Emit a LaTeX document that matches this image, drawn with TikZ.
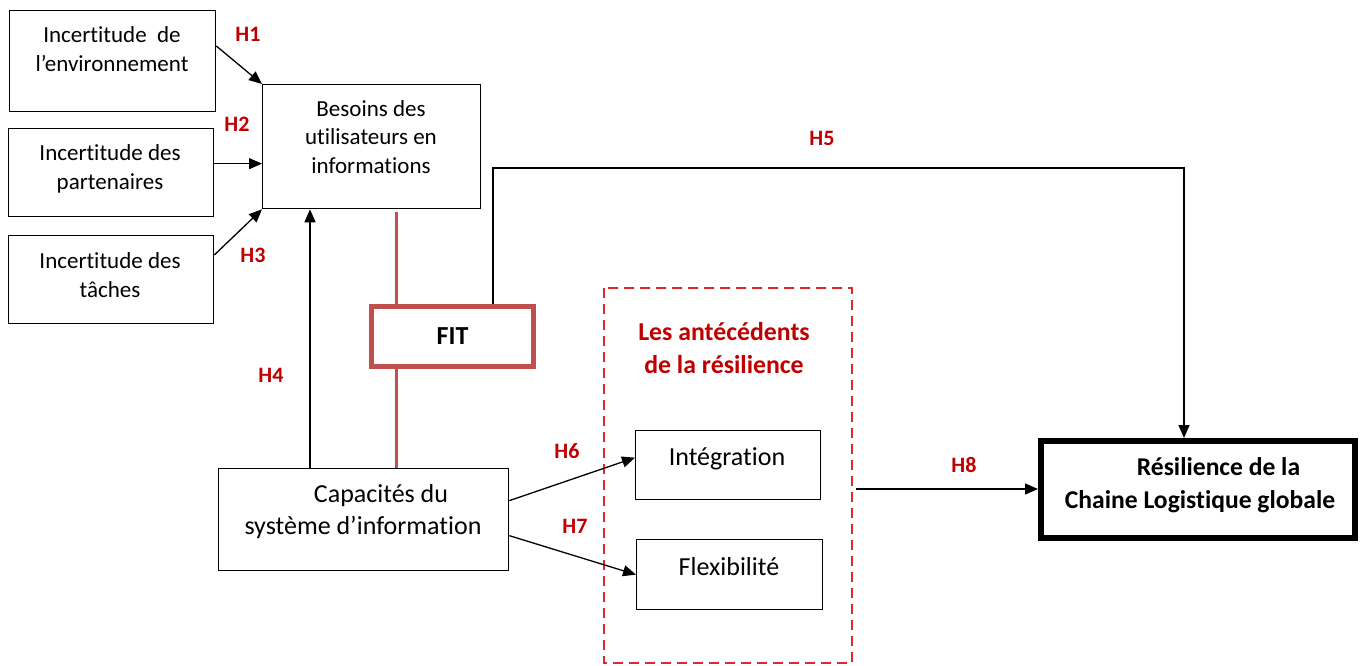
\documentclass[tikz,border=0pt]{standalone}
\usepackage{fontspec}
\setmainfont{Carlito}[Ligatures=NoCommon]
\usetikzlibrary{arrows.meta}
\definecolor{hred}{RGB}{192,0,0}
\definecolor{fitred}{RGB}{192,80,77}
\definecolor{dashred}{RGB}{224,40,40}
\begin{document}
\begin{tikzpicture}[x=1pt,y=-1pt,
  box/.style={draw=black,line width=1.3pt,inner sep=0pt,anchor=north west},
  txt/.style={font=\fontsize{23}{28.5}\selectfont,align=center,inner sep=0pt},
  bigtxt/.style={font=\fontsize{26}{32}\selectfont,align=center,inner sep=0pt},
  hyp/.style={font=\fontsize{22}{26}\selectfont\bfseries,text=hred,inner sep=0pt},
  conn/.style={line width=1.3pt,-{Triangle[length=13pt,width=11pt]}},
  fitline/.style={draw=fitred,line width=3pt},
]
\useasboundingbox[fill=white] (0,0) rectangle (1366,666);

% uncertainty boxes
\node[box,minimum width=206pt,minimum height=101pt] (env) at (9,10) {};
\node[txt] (envt) at (112,49) {Incertitude\ \ de\\l’environnement};
\node[box,minimum width=205pt,minimum height=88pt] (part) at (8,128) {};
\node[txt] (partt) at (110,169) {Incertitude des\\partenaires};
\node[box,minimum width=205pt,minimum height=88pt] (task) at (8,235) {};
\node[txt] (taskt) at (110,275) {Incertitude des\\tâches};

% information needs
\node[box,minimum width=218pt,minimum height=124pt] (need) at (262,84) {};
\node[txt] (needt) at (371,137) {Besoins des\\utilisateurs en\\informations};

% FIT
\node[draw=fitred,line width=5pt,minimum width=162pt,minimum height=60pt,inner sep=0pt,
      font=\fontsize{26}{30}\selectfont\bfseries] (fit) at (452.5,336.5) {FIT};

% information system capabilities
\node[box,minimum width=290pt,minimum height=102pt] (cap) at (218,468) {};
\node[bigtxt] (capt) at (363,512) {\hspace*{36pt}Capacités du\\système d’information};

% antecedents of resilience
\draw[dashred,line width=1.5pt,dash pattern=on 10pt off 6pt] (604,288) rectangle (852,663);
\node[font=\fontsize{25.8}{33}\selectfont\bfseries,text=hred,align=center,inner sep=0pt] (antt)
  at (724,348) {Les antécédents\\de la résilience};
\node[box,minimum width=185pt,minimum height=69pt] (integ) at (635,430) {};
\node[bigtxt] (integt) at (727,459) {Intégration};
\node[box,minimum width=186pt,minimum height=70pt] (flex) at (636,539) {};
\node[bigtxt] (flext) at (729,567) {Flexibilité};

% global supply chain resilience
\node[draw=black,line width=6pt,minimum width=314pt,minimum height=97pt,inner sep=0pt] (resil)
  at (1198,489.5) {};
\node[font=\fontsize{25.6}{33}\selectfont\bfseries,align=center,inner sep=0pt] (resilt)
  at (1200,485) {\hspace*{37pt}Résilience de la\\Chaine Logistique globale};

% fit links
\coordinate (r1) at (396,212);
\draw[fitline] (r1) -- (fit.north -| r1);
\draw[fitline] (fit.south -| r1) -- (cap.north -| r1);

% hypotheses
\draw[conn] ([yshift=-36pt]env.north east) -- (need.north west);
\draw[conn] ([yshift=9pt]part.east) -- ([yshift=9pt]part.east -| need.west);
\draw[conn] ([yshift=-20pt]task.north east) -- (need.south west);
\coordinate (h4) at (310,0);
\draw[conn] (cap.north -| h4) -- (need.south -| h4);
\coordinate (h5a) at (493,168);
\coordinate (h5b) at (1184,168);
\draw[conn] (fit.north -| h5a) -- (h5a) -- (h5b) -- (resil.north -| h5b);
\draw[conn] ([yshift=19pt]cap.east) -- ([yshift=7.5pt]integ.west);
\draw[conn] ([yshift=-16pt]cap.east) -- (flex.west);
\coordinate (h8) at (856,489);
\draw[conn] (h8) -- (h8 -| resil.west);

\node[hyp] (H1) at (248,34) {H1};
\node[hyp] (H2) at (237,124) {H2};
\node[hyp] (H3) at (253,255) {H3};
\node[hyp] (H4) at (271,375) {H4};
\node[hyp] (H5) at (822,138) {H5};
\node[hyp] (H6) at (567,451) {H6};
\node[hyp] (H7) at (575,526) {H7};
\node[hyp] (H8) at (964,465) {H8};
\end{tikzpicture}
\end{document}
